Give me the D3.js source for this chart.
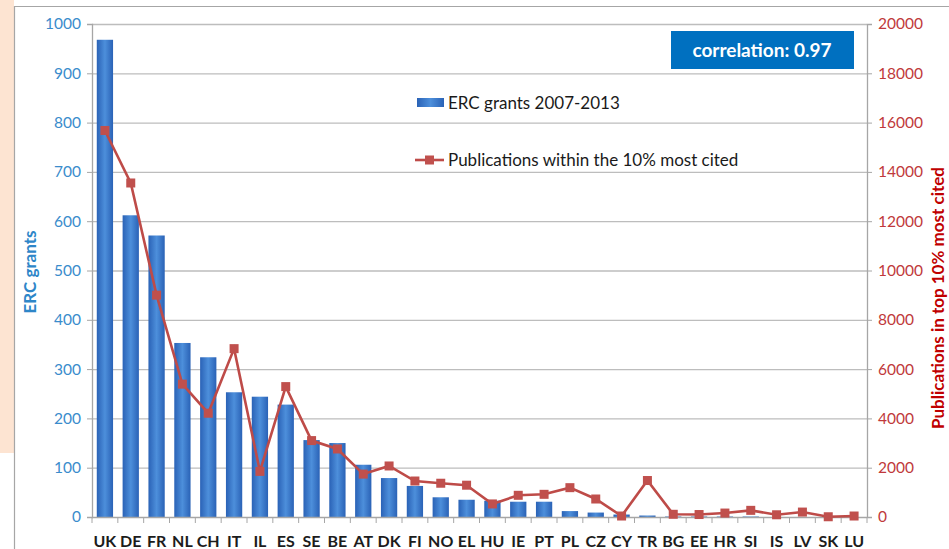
<!DOCTYPE html>
<html lang="en">
  <head>
    <meta charset="utf-8">
    <title>ERC grants vs top cited publications</title>
    <script src="https://d3js.org/d3.v7.min.js"></script>
    <style type="text/css">
      html, body {
        margin: 0; padding: 0;
        background: #fff;
        font-family: Lato, "Open Sans", sans-serif;
      }
      svg { display: block; }
    </style>
  </head>
  <body>
    <svg width="949" height="549"></svg>
    <script type="text/javascript">

      // countries, left to right
      var countries = ["UK","DE","FR","NL","CH","IT","IL","ES","SE","BE",
                       "AT","DK","FI","NO","EL","HU","IE","PT","PL","CZ",
                       "CY","TR","BG","EE","HR","SI","IS","LV","SK","LU"];

      // ERC grants 2007-2013 (left axis)
      var grants = [968, 612, 571, 353, 324, 253, 244, 228, 156, 150,
                    106, 79, 63, 40, 35, 33, 31, 31, 12, 9,
                    5, 3, 1, 1, 1, 1, 0, 0, 0, 0];

      // publications within the 10% most cited (right axis)
      var pubs = [15680, 13550, 9000, 5390, 4210, 6830, 1850, 5290, 3100, 2760,
                  1740, 2070, 1460, 1370, 1290, 530, 880, 920, 1190, 730,
                  40, 1480, 110, 100, 160, 270, 90, 200, 10, 40];

      var leftTicks = d3.range(0, 1001, 100);
      var rightTicks = d3.range(0, 20001, 2000);

      var svg = d3.select("svg");

      // page background bits
      svg.append("rect").attr("x", 0).attr("y", 0).attr("width", 14).attr("height", 453)
         .attr("fill", "#fde4d2");
      svg.append("path").attr("d", "M14.5,549 V6.5 H949")
         .attr("fill", "none").attr("stroke", "#a6a6a6").attr("stroke-width", 1.2);

      // plot box
      var pLeft = 92, pRight = 867, pTop = 24, pBottom = 517;

      var x = d3.scaleBand().domain(countries).range([pLeft, pRight]).paddingInner(0.37).paddingOuter(0.185);
      var xb = d3.scaleBand().domain(countries).range([pLeft, pRight]);
      var yL = d3.scaleLinear().domain([0, 1000]).range([pBottom, pTop]);
      var yR = d3.scaleLinear().domain([0, 20000]).range([pBottom, pTop]);

      // gridlines
      svg.append("g").selectAll("line").data(leftTicks.slice(1)).enter().append("line")
         .attr("x1", pLeft).attr("x2", pRight)
         .attr("y1", function(d){ return yL(d) + 0.5; })
         .attr("y2", function(d){ return yL(d) + 0.5; })
         .attr("stroke", "#bdbdbd").attr("stroke-width", 1.3);

      // bar gradient
      var grad = svg.append("defs").append("linearGradient").attr("id", "barGrad")
                    .attr("x1", "0%").attr("x2", "100%").attr("y1", "0%").attr("y2", "0%");
      grad.append("stop").attr("offset", "0%").attr("stop-color", "#2a62b6");
      grad.append("stop").attr("offset", "50%").attr("stop-color", "#4d8fdb");
      grad.append("stop").attr("offset", "100%").attr("stop-color", "#2a62b6");

      svg.append("g").selectAll("rect").data(grants).enter().append("rect")
         .attr("x", function(d, i){ return x(countries[i]); })
         .attr("width", x.bandwidth())
         .attr("y", function(d){ return yL(d); })
         .attr("height", function(d){ return pBottom - yL(d); })
         .attr("fill", "url(#barGrad)");

      // left axis
      var axL = svg.append("g").attr("transform", "translate(" + pLeft + ",0)")
         .call(d3.axisLeft(yL).tickValues(leftTicks).tickFormat(d3.format("d")).tickSize(5).tickPadding(6));
      axL.select(".domain").attr("stroke", "#a6a6a6").attr("stroke-width", 1.3);
      axL.selectAll(".tick line").attr("stroke", "#a6a6a6");
      axL.selectAll("text").attr("fill", "#3a8ccc").style("font-size", "15.5px")
         .style("font-family", "Lato, sans-serif");

      // right axis
      var axR = svg.append("g").attr("transform", "translate(" + pRight + ",0)")
         .call(d3.axisRight(yR).tickValues(rightTicks).tickFormat(d3.format("d")).tickSize(5).tickPadding(6));
      axR.select(".domain").attr("stroke", "#a6a6a6").attr("stroke-width", 1.3);
      axR.selectAll(".tick line").attr("stroke", "#a6a6a6");
      axR.selectAll("text").attr("fill", "#c0393b").style("font-size", "15.5px")
         .style("font-family", "Lato, sans-serif");

      // bottom axis: ticks between categories
      var axB = svg.append("g").attr("transform", "translate(0," + pBottom + ")");
      axB.append("line").attr("x1", pLeft).attr("x2", pRight).attr("y1", 0.5).attr("y2", 0.5)
         .attr("stroke", "#a6a6a6").attr("stroke-width", 1.3);
      axB.selectAll(".sep").data(countries.concat(["end"])).enter().append("line")
         .attr("class", "sep")
         .attr("x1", function(d, i){ return i < countries.length ? xb(d) : pRight; })
         .attr("x2", function(d, i){ return i < countries.length ? xb(d) : pRight; })
         .attr("y1", 0).attr("y2", 6)
         .attr("stroke", "#a6a6a6");
      axB.selectAll("text").data(countries).enter().append("text")
         .attr("x", function(d){ return xb(d) + xb.bandwidth() / 2; })
         .attr("y", 30)
         .attr("text-anchor", "middle")
         .attr("fill", "#1c1c1c")
         .style("font-size", "16px").style("font-weight", "bold")
         .text(function(d){ return d; });

      // line series
      var line = d3.line()
                   .x(function(d, i){ return xb(countries[i]) + xb.bandwidth() / 2; })
                   .y(function(d){ return yR(d); });
      svg.append("path").datum(pubs)
         .attr("d", line)
         .attr("fill", "none").attr("stroke", "#be4b48").attr("stroke-width", 2.6);
      svg.append("g").selectAll("rect").data(pubs).enter().append("rect")
         .attr("x", function(d, i){ return xb(countries[i]) + xb.bandwidth() / 2 - 4.5; })
         .attr("y", function(d){ return yR(d) - 4.5; })
         .attr("width", 9).attr("height", 9)
         .attr("fill", "#c0504d");

      // axis titles
      svg.append("text")
         .attr("transform", "translate(36,272) rotate(-90)")
         .attr("text-anchor", "middle")
         .attr("fill", "#2e86c8")
         .style("font-size", "17px").style("font-weight", "bold")
         .text("ERC grants");
      svg.append("text")
         .attr("transform", "translate(944,298) rotate(-90)")
         .attr("text-anchor", "middle")
         .attr("fill", "#c00000")
         .style("font-size", "17px").style("font-weight", "bold")
         .text("Publications in top 10% most cited");

      // legend
      var lg = svg.append("g");
      lg.append("rect").attr("x", 417).attr("y", 98).attr("width", 27).attr("height", 9)
        .attr("fill", "url(#barGrad)");
      lg.append("text").attr("x", 448).attr("y", 109).attr("fill", "#1a1a1a")
        .style("font-size", "17px").text("ERC grants 2007-2013");
      lg.append("line").attr("x1", 415).attr("x2", 444).attr("y1", 160).attr("y2", 160)
        .attr("stroke", "#be4b48").attr("stroke-width", 2.6);
      lg.append("rect").attr("x", 425).attr("y", 155.5).attr("width", 9).attr("height", 9)
        .attr("fill", "#c0504d");
      lg.append("text").attr("x", 448).attr("y", 166).attr("fill", "#1a1a1a")
        .style("font-size", "17px").text("Publications within the 10% most cited");

      // correlation badge
      svg.append("rect").attr("x", 671).attr("y", 31).attr("width", 183).attr("height", 38)
         .attr("fill", "#0070c0");
      svg.append("text").attr("x", 762).attr("y", 57).attr("text-anchor", "middle")
         .attr("fill", "#fff").style("font-size", "19px").style("font-weight", "bold")
         .text("correlation: 0.97");

    </script>
  </body>
</html>
